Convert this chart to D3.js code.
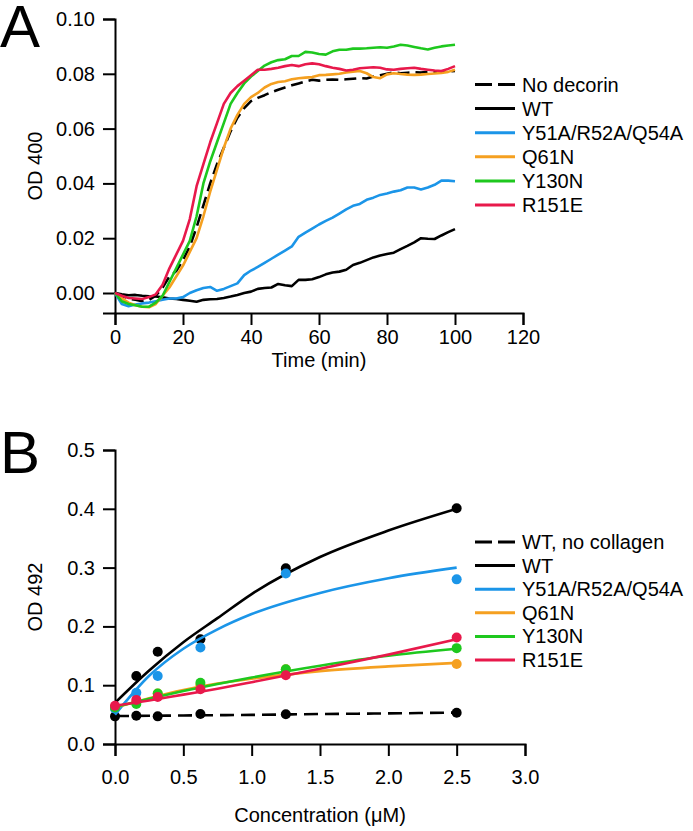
<!DOCTYPE html>
<html><head><meta charset="utf-8">
<script src="https://cdn.jsdelivr.net/npm/d3@7"></script>
<style>body{margin:0;background:#fff;} svg{display:block;font-family:"Liberation Sans",Arial,sans-serif;}</style>
</head><body>
<svg id="c" width="693" height="831"></svg>
<script>
// ---------- Panel A data ----------
const timesA = d3.range(0, 101, 2);
const noDecorin = [0,-0.001,-0.002,-0.0025,-0.003,-0.0025,-0.001,0.002,0.006,0.008,0.012,0.017,0.024,0.032,0.040,0.047,0.053,0.059,0.064,0.0675,0.070,0.0712,0.0722,0.0733,0.0742,0.075,0.0758,0.0765,0.0772,0.0778,0.0775,0.0778,0.0779,0.0778,0.078,0.0782,0.0784,0.0783,0.079,0.0795,0.08,0.0805,0.0802,0.0804,0.0806,0.0805,0.0807,0.0806,0.0808,0.0809,0.081];
const wtA = [0,-0.0005,-0.0008,-0.0007,-0.001,-0.0012,-0.0013,-0.0016,-0.002,-0.0022,-0.0025,-0.0028,-0.0032,-0.0025,-0.0023,-0.0022,-0.0018,-0.0013,-0.0007,0,0.0005,0.0015,0.0018,0.002,0.0033,0.0028,0.0025,0.0048,0.0048,0.005,0.0058,0.0068,0.0075,0.0078,0.0085,0.0102,0.011,0.012,0.013,0.0137,0.0142,0.0147,0.016,0.0172,0.0185,0.02,0.0198,0.0197,0.021,0.0222,0.0233];
const y51A = [0,-0.004,-0.0048,-0.0042,-0.0038,-0.0035,-0.003,-0.0025,-0.002,-0.002,-0.0015,0,0.001,0.0018,0.0022,0.0008,0.0015,0.0025,0.0035,0.0065,0.0082,0.0095,0.011,0.0125,0.014,0.0155,0.017,0.0205,0.022,0.0235,0.025,0.0263,0.0275,0.029,0.0305,0.0318,0.0325,0.034,0.0348,0.0358,0.0363,0.037,0.0375,0.0385,0.0385,0.0378,0.0385,0.0395,0.041,0.041,0.0408];
const q61nA = [0,-0.002,-0.0035,-0.0045,-0.005,-0.0052,-0.004,-0.001,0.002,0.006,0.010,0.015,0.020,0.028,0.037,0.045,0.053,0.060,0.065,0.069,0.0715,0.073,0.075,0.0763,0.077,0.0773,0.078,0.0784,0.0786,0.0788,0.0795,0.0796,0.0798,0.080,0.0805,0.0808,0.081,0.0802,0.0788,0.0784,0.0798,0.0802,0.0799,0.0797,0.0796,0.0797,0.0799,0.0801,0.0803,0.0807,0.0815];
const y130nA = [0,-0.003,-0.004,-0.0045,-0.005,-0.005,-0.0035,-0.001,0.004,0.009,0.014,0.019,0.028,0.040,0.048,0.055,0.062,0.069,0.073,0.0765,0.079,0.081,0.083,0.0842,0.085,0.0853,0.0865,0.0865,0.088,0.0878,0.0872,0.087,0.0882,0.0888,0.0888,0.0892,0.0892,0.0893,0.0895,0.0897,0.0895,0.09,0.0906,0.0903,0.0898,0.0893,0.0889,0.0895,0.09,0.0903,0.0906];
const r151eA = [0,-0.001,-0.0018,-0.002,-0.0022,-0.0015,-0.0005,0.003,0.009,0.014,0.019,0.027,0.039,0.047,0.055,0.062,0.069,0.073,0.0755,0.0775,0.0795,0.0815,0.0815,0.0818,0.0822,0.0828,0.0832,0.0828,0.0835,0.0838,0.0835,0.0828,0.0822,0.0818,0.0812,0.0815,0.082,0.0822,0.0824,0.0822,0.0816,0.0815,0.0818,0.082,0.0822,0.0818,0.0815,0.0812,0.081,0.0818,0.0828];
const ticksAx = [0,20,40,60,80,100,120];
const ticksAy = [0,0.02,0.04,0.06,0.08,0.10];
const labelsA = ["No decorin","WT","Y51A/R52A/Q54A","Q61N","Y130N","R151E"];

// ---------- Panel B data ----------
const concB = [0,0.156,0.3125,0.625,1.25,2.5];
const ptsNoColl = [0.047,0.048,0.047,0.051,0.0505,0.053];
const ptsWT = [0.062,0.1156,0.157,0.178,0.2987,0.4008];
const ptsY51A = [0.060,0.087,0.1156,0.164,0.290,0.280];
const ptsQ61N = [0.063,0.072,0.086,0.100,0.127,0.136];
const ptsY130N = [0.062,0.068,0.086,0.104,0.127,0.163];
const ptsR151E = [0.065,0.075,0.080,0.093,0.117,0.181];
// fitted curves
const fitConc = [0,0.25,0.5,0.75,1.0,1.5,2.0,2.5];
const fitNoColl = [0.0475,0.048,0.0485,0.049,0.0495,0.051,0.052,0.0535];
const fitWT = [0.070,0.125,0.173,0.214,0.255,0.318,0.363,0.400];
const fitY51A = [0.050,0.116,0.162,0.195,0.221,0.257,0.282,0.300];
const fitQ61N = [0.062,0.078,0.092,0.103,0.111,0.124,0.132,0.138];
const fitY130N = [0.063,0.077,0.090,0.102,0.113,0.133,0.150,0.162];
const fitR151E = [0.065,0.074,0.084,0.094,0.105,0.128,0.152,0.178];
const ticksBx = [0,0.5,1.0,1.5,2.0,2.5,3.0];
const ticksBy = [0,0.1,0.2,0.3,0.4,0.5];
const labelsB = ["WT, no collagen","WT","Y51A/R52A/Q54A","Q61N","Y130N","R151E"];

const colors = ["#000000","#000000","#1b95e8","#f5a020","#1ec81e","#e8194b"];
const dashed = [true,false,false,false,false,false];

const svg = d3.select("#c");
const FS = 20;

function styleAxis(g){
  g.selectAll("path.domain").attr("stroke","#000").attr("stroke-width",2);
  g.selectAll(".tick line").attr("stroke","#000").attr("stroke-width",2);
  g.selectAll(".tick text").attr("font-size",FS).attr("fill","#000").attr("font-family","Liberation Sans, Arial, sans-serif");
}

// ---------- Panel A ----------
const xA = d3.scaleLinear().domain([0,120]).range([115,523]);
const yA = d3.scaleLinear().domain([-0.0073,0.10]).range([313,19]);
const gAx = svg.append("g").attr("transform","translate(0,313)")
  .call(d3.axisBottom(xA).tickValues(ticksAx).tickFormat(d3.format("d")).tickSizeOuter(0).tickSize(12).tickPadding(5));
styleAxis(gAx);
const gAy = svg.append("g").attr("transform","translate(115,0)")
  .call(d3.axisLeft(yA).tickValues(ticksAy).tickFormat(d3.format(".2f")).tickSizeOuter(0).tickSize(12).tickPadding(8));
styleAxis(gAy);

const seriesA = [noDecorin,wtA,y51A,q61nA,y130nA,r151eA];
const lineA = d3.line().x((d,i)=>xA(timesA[i])).y(d=>yA(d));
seriesA.forEach((s,k)=>{
  svg.append("path").datum(s).attr("d",lineA).attr("fill","none")
    .attr("stroke",colors[k]).attr("stroke-width",2.6).attr("stroke-linejoin","round")
    .attr("stroke-dasharray",dashed[k]?"12,6":null);
});

svg.append("text").attr("x",0).attr("y",47).attr("font-size",60).text("A");
svg.append("text").attr("transform","translate(42,166) rotate(-90)").attr("text-anchor","middle")
  .attr("font-size",FS).text("OD 400");
svg.append("text").attr("x",319).attr("y",367).attr("text-anchor","middle").attr("font-size",FS).text("Time (min)");

function legend(labels, y0, dy){
  labels.forEach((l,k)=>{
    const yy = y0 + k*dy;
    svg.append("line").attr("x1",475).attr("x2",515).attr("y1",yy).attr("y2",yy)
      .attr("stroke",colors[k]).attr("stroke-width",3)
      .attr("stroke-dasharray",dashed[k]?"17,6":null);
    svg.append("text").attr("x",522).attr("y",yy+7).attr("font-size",FS).text(l);
  });
}
legend(labelsA, 84.5, 24.1);

// ---------- Panel B ----------
const xB = d3.scaleLinear().domain([0,3]).range([115,525]);
const yB = d3.scaleLinear().domain([0,0.5]).range([744,450]);
const gBx = svg.append("g").attr("transform","translate(0,744)")
  .call(d3.axisBottom(xB).tickValues(ticksBx).tickFormat(d3.format(".1f")).tickSizeOuter(0).tickSize(12).tickPadding(14));
styleAxis(gBx);
const gBy = svg.append("g").attr("transform","translate(115,0)")
  .call(d3.axisLeft(yB).tickValues(ticksBy).tickFormat(d3.format(".1f")).tickSizeOuter(0).tickSize(12).tickPadding(8));
styleAxis(gBy);

const fitsB = [fitNoColl,fitWT,fitY51A,fitQ61N,fitY130N,fitR151E];
const ptsB = [ptsNoColl,ptsWT,ptsY51A,ptsQ61N,ptsY130N,ptsR151E];
const lineB = d3.line().x((d,i)=>xB(fitConc[i])).y(d=>yB(d)).curve(d3.curveMonotoneX);
fitsB.forEach((s,k)=>{
  svg.append("path").datum(s).attr("d",lineB).attr("fill","none")
    .attr("stroke",colors[k]).attr("stroke-width",2.6)
    .attr("stroke-dasharray",dashed[k]?"14,7":null);
  svg.append("g").selectAll("circle").data(ptsB[k]).join("circle")
    .attr("cx",(d,i)=>xB(concB[i])).attr("cy",d=>yB(d)).attr("r",5).attr("fill",colors[k]);
});

svg.append("text").attr("x",0).attr("y",473).attr("font-size",60).text("B");
svg.append("text").attr("transform","translate(42,597) rotate(-90)").attr("text-anchor","middle")
  .attr("font-size",FS).text("OD 492");
svg.append("text").attr("x",320).attr("y",822).attr("text-anchor","middle").attr("font-size",FS).text("Concentration (\u03BCM)");
legend(labelsB, 542, 23.6);
</script>
</body></html>
